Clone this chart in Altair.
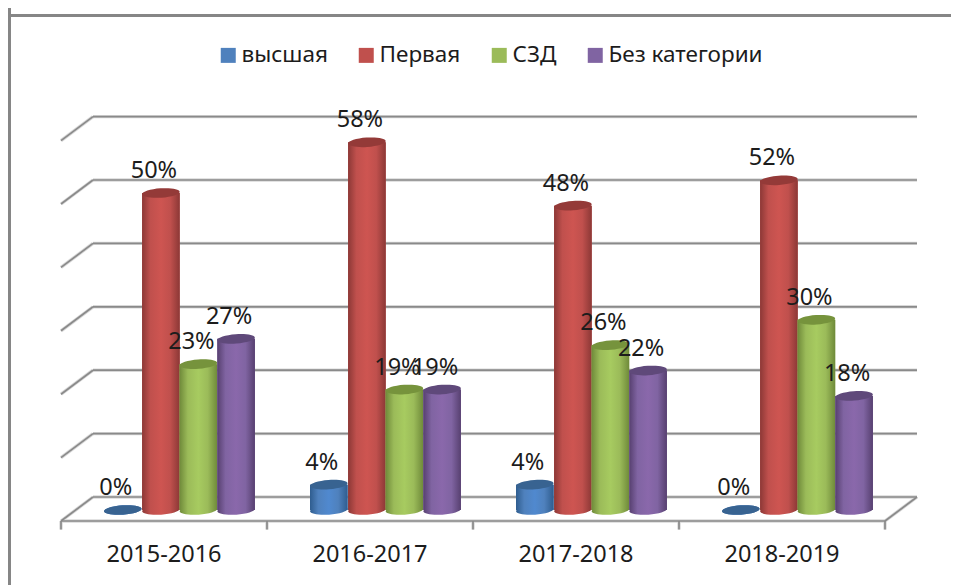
import altair as alt
import pandas as pd

periods = ["2015-2016", "2016-2017", "2017-2018", "2018-2019"]
series = ["высшая", "Первая", "СЗД", "Без категории"]
vysshaya = [0, 4, 4, 0]
pervaya = [50, 58, 48, 52]
szd = [23, 19, 26, 30]
bez = [27, 19, 22, 18]
grid_levels = [0, 10, 20, 30, 40, 50, 60]

flat = ["#4f81bd", "#c0504d", "#9bbb59", "#8064a2"]
light = ["#5089cf", "#ce5551", "#a7cb60", "#8a68ab"]
dark = ["#2f5d8f", "#8c3836", "#6f8a3a", "#574070"]
capc = ["#386391", "#943a38", "#76933c", "#5f497a"]
FONT = "Noto Sans"
TXT = "#1c1c1c"
GRID = "#8a8a8a"

W, H = 943, 577
UX, UY = 206.0, 6.34           # px per category, px per percent
x_scale = alt.Scale(domain=[-53 / UX, 890 / UX], range=[0, W], nice=False, zero=False)
y_scale = alt.Scale(domain=[502 / UY, -75 / UY], range=[0, H], nice=False, zero=False)
WALL = 13 / UY                 # wall is behind the bars' floor line
DX, DY = 32 / UX, 24 / UY      # depth of the floor

offsets = [0.30, 0.485, 0.667, 0.85]
BAR = 37.6 / UX

rows = []
for s, vals, off in zip(series, [vysshaya, pervaya, szd, bez], offsets):
    for i, (p, v) in enumerate(zip(periods, vals)):
        rows.append(dict(period=p, series=s, value=v, label=f"{v}%", base=0,
                         xc=i + off, x0=i + off - BAR / 2, x1=i + off + BAR / 2))
df = pd.DataFrame(rows)


def X(f, **k):
    return alt.X(f, type="quantitative", scale=x_scale, axis=None, **k)


def Y(f, **k):
    return alt.Y(f, type="quantitative", scale=y_scale, axis=None, **k)


seg = []
for lv in grid_levels:
    w = lv + WALL
    seg.append(dict(a=DX, a2=4 + DX, v=w, v2=w))          # back wall
    seg.append(dict(a=0, a2=DX, v=w - DY, v2=w))          # left wall
seg.append(dict(a=0, a2=4, v=WALL - DY, v2=WALL - DY))    # front floor
seg.append(dict(a=4, a2=4 + DX, v=WALL - DY, v2=WALL))    # right floor
for i in range(5):
    seg.append(dict(a=i, a2=i, v=WALL - DY, v2=WALL - DY - 1.35))
seg_df = pd.DataFrame(seg)


def seg_layer(color, width):
    return alt.Chart(seg_df).mark_rule(color=color, strokeWidth=width).encode(
        x=X("a"), x2="a2", y=Y("v"), y2="v2")


layers = [
    alt.Chart(pd.DataFrame({"p": [0]})).mark_rule(color="#868686", strokeWidth=3).encode(
        x=alt.value(1.5), y=alt.value(0), y2=alt.value(H)),
    alt.Chart(pd.DataFrame({"p": [0]})).mark_rule(color="#868686", strokeWidth=3).encode(
        x=alt.value(0), x2=alt.value(W), y=alt.value(7.5)),
    seg_layer("#d8d8d8", 3.4),
    seg_layer(GRID, 1.7),
]

ELLIPSE = "M-1,0A1,0.25,0,1,1,1,0A1,0.25,0,1,1,-1,0Z"
SIZE = 37.6 ** 2

for k, s in enumerate(series):
    grad = alt.Gradient(
        gradient="linear", x1=0, x2=1, y1=0, y2=0,
        stops=[
            alt.GradientStop(offset=0, color=dark[k]),
            alt.GradientStop(offset=0.22, color=flat[k]),
            alt.GradientStop(offset=0.5, color=light[k]),
            alt.GradientStop(offset=0.75, color=flat[k]),
            alt.GradientStop(offset=1, color=dark[k]),
        ],
    )
    sub = alt.Chart(df).transform_filter(alt.datum.series == s)
    layers.append(sub.mark_point(shape=ELLIPSE, size=SIZE, filled=True, fill=grad, opacity=1,
                                 strokeWidth=0, angle=356).encode(x=X("xc"), y=Y("base")))
    layers.append(sub.mark_bar(strokeWidth=0).encode(
        x=X("x0"), x2="x1", y=Y("value"), y2="base",
        color=alt.Color("series:N", scale=alt.Scale(domain=series, range=flat),
                        legend=alt.Legend(
                            title=None, orient="none", legendX=209, legendY=36,
                            direction="horizontal", columns=4, symbolType="square",
                            symbolSize=225, symbolStrokeWidth=0, labelFont=FONT,
                            labelFontSize=22.5, labelColor=TXT, labelOffset=2,
                            columnPadding=27, labelLimit=300)),
    ))
    layers.append(sub.mark_bar(fill=grad, strokeWidth=0).encode(
        x=X("x0"), x2="x1", y=Y("value"), y2="base"))
    layers.append(sub.mark_point(shape=ELLIPSE, size=SIZE, filled=True, fill=capc[k], opacity=1,
                                 strokeWidth=0, angle=356).encode(x=X("xc"), y=Y("value")))

layers.append(alt.Chart(df).mark_text(
    font=FONT, fontSize=23.5, color=TXT, align="center", baseline="alphabetic", dx=-7, dy=-15
).encode(x=X("xc"), y=Y("value"), text="label:N"))

cat_df = pd.DataFrame({"period": periods, "a": [i + 0.5 for i in range(4)], "v": [-52 / UY] * 4})
layers.append(alt.Chart(cat_df).mark_text(
    font=FONT, fontSize=23.5, color=TXT, align="center", baseline="alphabetic"
).encode(x=X("a"), y=Y("v"), text="period:N"))

chart = alt.layer(*layers).properties(
    width=W, height=H, padding=0, autosize=alt.AutoSizeParams(type="none"), background="white"
).configure_view(stroke=None)

chart.save("out.html", embed_options={"renderer": "svg", "actions": False})
